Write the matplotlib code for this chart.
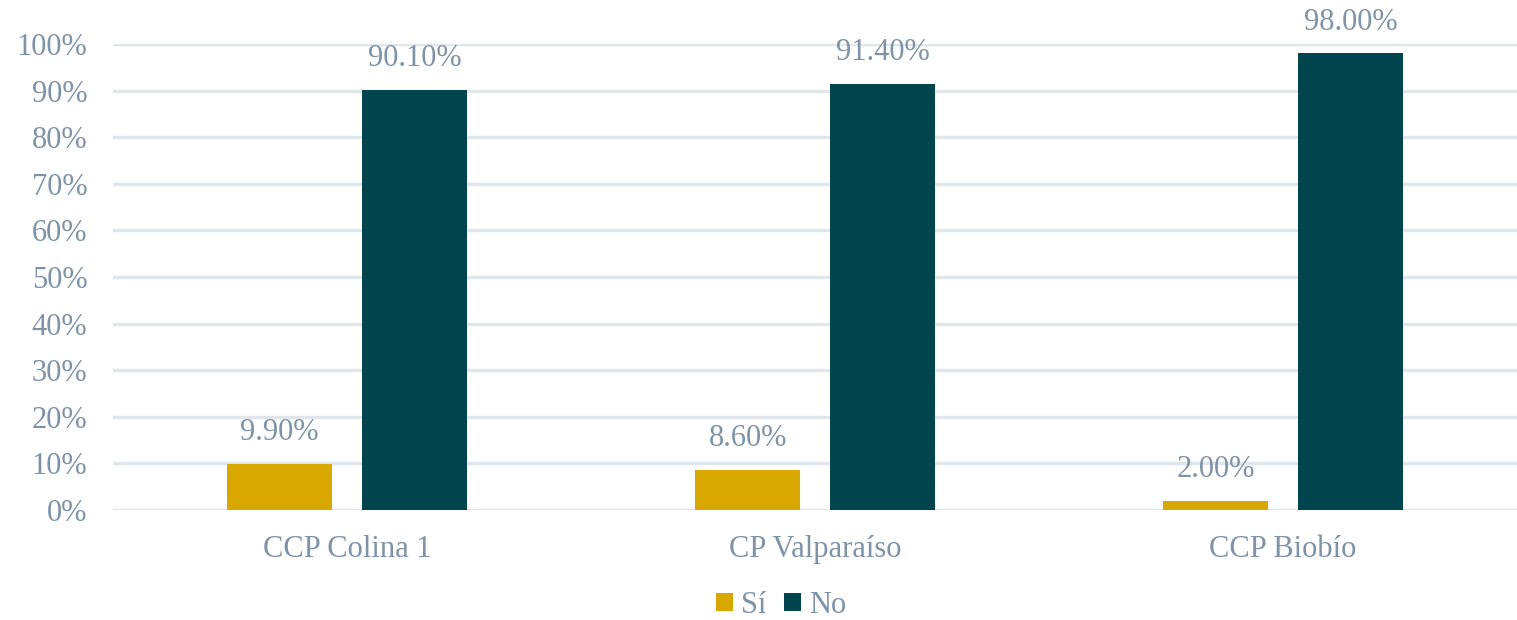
import numpy as np
import matplotlib.pyplot as plt

############ data ##################
categories = ["CCP Colina 1", "CP Valparaíso", "CCP Biobío"]
si_values = [9.9, 8.6, 2.0]
no_values = [90.1, 91.4, 98.0]
series_names = ["Sí", "No"]
yticks = [0, 10, 20, 30, 40, 50, 60, 70, 80, 90, 100]

############ style ##################
text_color = "#7F93A7"
grid_color = "#E1E6EB"
colors = ["#D9A800", "#02454F"]
fs = 22
plt.rcParams['font.family'] = ['Liberation Serif', 'DejaVu Serif']

############ plotting ##################
fig = plt.figure(figsize=(15.17, 6.2), dpi=100)
ax = fig.add_axes([0.0745, 0.1774, 0.9255, 0.7516])

x = np.arange(len(categories))
width = 0.224
offset = 0.144

bars_si = ax.bar(x - offset, si_values, width, color=colors[0], label=series_names[0], zorder=3)
bars_no = ax.bar(x + offset, no_values, width, color=colors[1], label=series_names[1], zorder=3)

for bars, vals in [(bars_si, si_values), (bars_no, no_values)]:
    for b, v in zip(bars, vals):
        ax.annotate("%.2f%%" % v, (b.get_x() + b.get_width() / 2, v),
                    xytext=(0, 12), textcoords="offset points",
                    ha="center", va="bottom", fontsize=fs, color=text_color)

ax.set_xlim(-0.5, 2.5)
ax.set_ylim(0, 100)
ax.set_yticks(yticks)
ax.set_yticklabels(["%d%%" % t for t in yticks])
ax.set_xticks(x)
ax.set_xticklabels(categories)
ax.tick_params(axis="both", length=0, labelsize=fs, labelcolor=text_color)
ax.tick_params(axis="x", pad=18)
ax.tick_params(axis="y", pad=18.5)

ax.yaxis.grid(True, color=grid_color, linewidth=2.5, zorder=0)
ax.set_axisbelow(True)
for s in ax.spines.values():
    s.set_visible(False)

leg = fig.legend(handles=[bars_si, bars_no], labels=series_names, loc="center",
                 bbox_to_anchor=(0.515, 0.024), ncol=2, frameon=False, fontsize=fs,
                 handlelength=0.55, handleheight=0.55, handletextpad=0.25, columnspacing=0.6)
for t in leg.get_texts():
    t.set_color(text_color)

plt.savefig("out.png", dpi=100)
